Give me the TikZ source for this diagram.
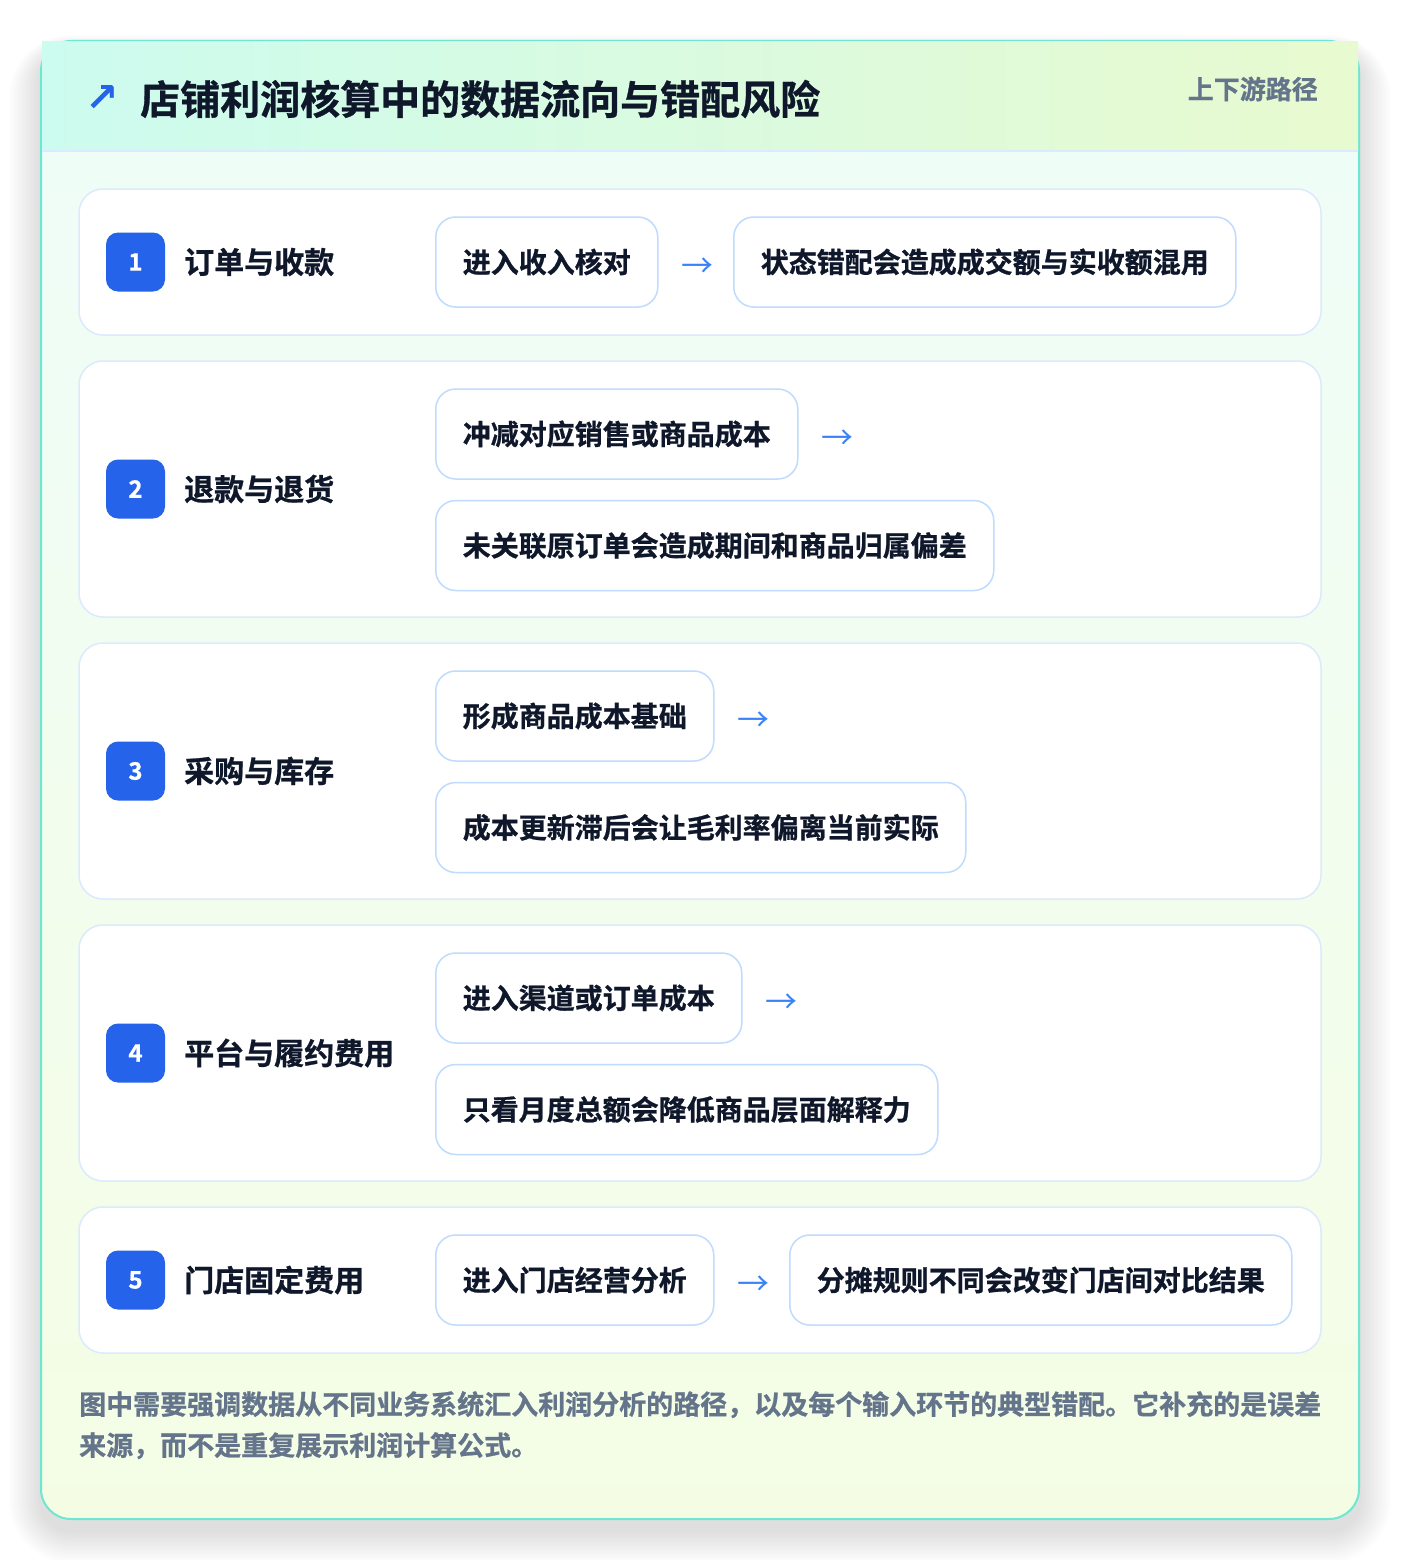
\documentclass[tikz,border=0pt]{standalone}
\usepackage{fontspec}
\setmainfont{Noto Sans CJK SC}[BoldFont={Noto Sans CJK SC Bold}, BoldFeatures={FakeBold=0.8}]
\newfontfamily\symfont{DejaVu Sans}
\usetikzlibrary{positioning}

\definecolor{cardline}{HTML}{6EE7D2}
\definecolor{headleft}{HTML}{CCFBEF}
\definecolor{headright}{HTML}{E8FACF}
\definecolor{bodytop}{HTML}{EFFDF9}
\definecolor{bodybot}{HTML}{F4FDE4}
\definecolor{rowline}{HTML}{DBEAFE}
\definecolor{stepline}{HTML}{BFDBFE}
\definecolor{badgeblue}{HTML}{2563EB}
\definecolor{ink}{HTML}{0F172A}
\definecolor{muted}{HTML}{64748B}
\definecolor{arrowblue}{HTML}{3B82F6}

\tikzset{
	rowbox/.style={draw=rowline, line width=1.5pt, fill=white, rounded corners=24pt},
	badge/.style={fill=badgeblue, rounded corners=12pt, minimum size=59pt, inner sep=0pt, text=white, font=\bfseries\fontsize{24}{24}\selectfont},
	rowlabel/.style={anchor=west, text=ink, inner sep=0pt, font=\bfseries\fontsize{30}{30}\selectfont},
	stepbox/.style={draw=stepline, line width=1.5pt, fill=white, rounded corners=20pt, minimum height=90pt, inner xsep=27pt, inner ysep=0pt, text=ink, font=\bfseries\fontsize{28}{28}\selectfont},
	flow/.style={text=arrowblue, inner sep=0pt, minimum width=32pt, yshift=-6pt, font=\mdseries\fontsize{32}{32}\selectfont},
}

\begin{document}
\begin{tikzpicture}[x=1pt, y=-1pt]
			%%%%% START %%%%%
			
			\useasboundingbox[fill=white] (0,0) rectangle (1400,1560);
			
			% card and its soft shadow
			\foreach \i in {1,...,16}
				\fill[black, opacity=0.006, rounded corners=30+2*\i] (41-2*\i,51-\i) rectangle (1359+2*\i,1531+2*\i);
			\shade[top color=bodytop, bottom color=bodybot, rounded corners=30pt] (41,41) rectangle (1359,1519);
			\draw[cardline, line width=2pt, rounded corners=30pt] (41,41) rectangle (1359,1519);
			
			% header
			\shade[left color=headleft, right color=headright] (42,42) rectangle (1358,151);
			\draw[rowline, line width=1.5pt] (42,151) -- (1358,151);
			\node[text=badgeblue, inner sep=0pt, font=\symfont\bfseries\fontsize{40}{40}\selectfont] (icon) at (102,99) {↗};
			\node[anchor=west, text=ink, inner sep=0pt, font=\bfseries\fontsize{40}{40}\selectfont] (title) at (140,99) {店铺利润核算中的数据流向与错配风险};
			\node[anchor=east, text=muted, inner sep=0pt, font=\bfseries\fontsize{26}{26}\selectfont] (tag) at (1318,89) {上下游路径};
			
			% row 1
			\draw[rowbox] (79,189) rectangle (1321,335);
			\node[badge] (b1) at (135.5,262) {1};
			\node[rowlabel] (l1) at (184,262) {订单与收款};
			\node[stepbox, anchor=west] (s1a) at (435,262) {进入收入核对};
			\node[flow, right=23pt of s1a] (f1) {→};
			\node[stepbox, anchor=west] (s1b) at (733,262) {状态错配会造成成交额与实收额混用};
			
			% row 2
			\draw[rowbox] (79,361) rectangle (1321,617);
			\node[badge] (b2) at (135.5,489) {2};
			\node[rowlabel] (l2) at (184,489) {退款与退货};
			\node[stepbox, anchor=west] (s2a) at (435,434) {冲减对应销售或商品成本};
			\node[flow, right=23pt of s2a] (f2) {→};
			\node[stepbox, below right=20pt and 0pt of s2a.south west] (s2b) {未关联原订单会造成期间和商品归属偏差};
			
			% row 3
			\draw[rowbox] (79,643) rectangle (1321,899);
			\node[badge] (b3) at (135.5,771) {3};
			\node[rowlabel] (l3) at (184,771) {采购与库存};
			\node[stepbox, anchor=west] (s3a) at (435,716) {形成商品成本基础};
			\node[flow, right=23pt of s3a] (f3) {→};
			\node[stepbox, below right=20pt and 0pt of s3a.south west] (s3b) {成本更新滞后会让毛利率偏离当前实际};
			
			% row 4
			\draw[rowbox] (79,925) rectangle (1321,1181);
			\node[badge] (b4) at (135.5,1053) {4};
			\node[rowlabel] (l4) at (184,1053) {平台与履约费用};
			\node[stepbox, anchor=west] (s4a) at (435,998) {进入渠道或订单成本};
			\node[flow, right=23pt of s4a] (f4) {→};
			\node[stepbox, below right=20pt and 0pt of s4a.south west] (s4b) {只看月度总额会降低商品层面解释力};
			
			% row 5
			\draw[rowbox] (79,1207) rectangle (1321,1353);
			\node[badge] (b5) at (135.5,1280) {5};
			\node[rowlabel] (l5) at (184,1280) {门店固定费用};
			\node[stepbox, anchor=west] (s5a) at (435,1280) {进入门店经营分析};
			\node[flow, right=23pt of s5a] (f5) {→};
			\node[stepbox, anchor=west] (s5b) at (789,1280) {分摊规则不同会改变门店间对比结果};
			
			% footer
			\node[anchor=north west, align=left, text=muted, inner sep=0pt, font=\bfseries\fontsize{27}{41}\selectfont] (note) at (79,1391) {图中需要强调数据从不同业务系统汇入利润分析的路径，以及每个输入环节的典型错配。它补充的是误差\\来源，而不是重复展示利润计算公式。};
			
			%%%%% END %%%%%
\end{tikzpicture}
\end{document}
